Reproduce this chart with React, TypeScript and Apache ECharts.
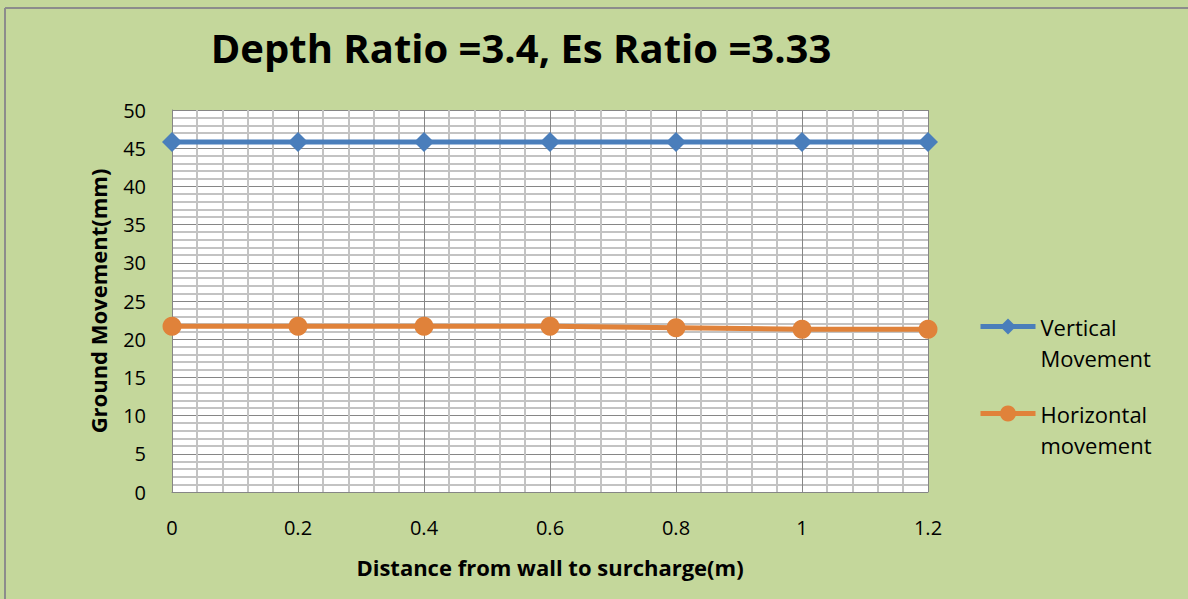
import React, { useEffect, useRef } from "react";
import * as echarts from "echarts";

const xValues = [0, 0.2, 0.4, 0.6, 0.8, 1, 1.2];
const verticalMovement = [45.8, 45.8, 45.8, 45.8, 45.8, 45.8, 45.8];
const horizontalMovement = [21.7, 21.7, 21.7, 21.7, 21.5, 21.3, 21.3];
const seriesNames = ["Vertical\nMovement", "Horizontal\nmovement"];
const titleText = "Depth Ratio =3.4, Es Ratio =3.33";
const xTitle = "Distance from wall to surcharge(m)";
const yTitle = "Ground Movement(mm)";

const FONT = "'Open Sans', 'Noto Sans', sans-serif";

export default function App() {
  const ref = useRef<HTMLDivElement>(null);
  useEffect(() => {
    if (!ref.current) return;
    const chart = echarts.init(ref.current, undefined, { renderer: "svg" });
    const toPairs = (ys: number[]) => xValues.map((x, i) => [x, ys[i]]);
    chart.setOption({
      animation: false,
      backgroundColor: "#C4D79B",
      textStyle: { fontFamily: FONT },
      title: {
        text: titleText,
        left: 516,
        top: 22,
        textAlign: "center",
        textStyle: { fontSize: 40, fontWeight: "bold", color: "#000", fontFamily: FONT },
      },
      graphic: [
        { type: "line", shape: { x1: 5, y1: 8, x2: 5, y2: 599 }, style: { stroke: "#8c8c8c", lineWidth: 2 } },
        { type: "line", shape: { x1: 5, y1: 8, x2: 1188, y2: 8 }, style: { stroke: "#8c8c8c", lineWidth: 2 } },
      ],
      legend: {
        orient: "vertical",
        left: 973,
        top: 275,
        itemWidth: 55,
        itemHeight: 20,
        itemGap: -6,
        lineStyle: { width: 5 },
        formatter: (name: string) => " \n" + name,
        textStyle: { fontSize: 22, color: "#000", lineHeight: 31, fontFamily: FONT },
        data: seriesNames,
      },
      grid: { left: 172, top: 110, width: 756, height: 382, show: true, backgroundColor: "#ffffff", borderWidth: 0 },
      xAxis: {
        type: "value",
        min: 0,
        max: 1.2,
        interval: 0.2,
        name: xTitle,
        nameLocation: "middle",
        nameGap: 64,
        nameTextStyle: { fontSize: 22, fontWeight: "bold", color: "#000", fontFamily: FONT },
        axisLine: { show: true, lineStyle: { color: "#868686", width: 1 } },
        axisTick: { show: false },
        axisLabel: { fontSize: 20, color: "#000", margin: 25, fontFamily: FONT },
        splitLine: { show: true, lineStyle: { color: "#868686", width: 1 } },
        minorTick: { show: false, splitNumber: 5 },
        minorSplitLine: { show: true, lineStyle: { color: "#c3c3c3", width: 2 } },
      },
      yAxis: {
        type: "value",
        min: 0,
        max: 50,
        interval: 5,
        name: yTitle,
        nameLocation: "middle",
        nameGap: 63,
        nameTextStyle: { fontSize: 22, fontWeight: "bold", color: "#000", fontFamily: FONT },
        axisLine: { show: true, lineStyle: { color: "#868686", width: 1 } },
        axisTick: { show: false },
        axisLabel: { fontSize: 20, color: "#000", margin: 26, fontFamily: FONT },
        splitLine: { show: true, lineStyle: { color: "#868686", width: 1 } },
        minorTick: { show: false, splitNumber: 5 },
        minorSplitLine: { show: true, lineStyle: { color: "#c3c3c3", width: 2 } },
      },
      series: [
        {
          name: seriesNames[0],
          type: "line",
          data: toPairs(verticalMovement),
          symbol: "diamond",
          symbolSize: 20,
          lineStyle: { color: "#4A7EBB", width: 5 },
          itemStyle: { color: "#4A7EBB" },
        },
        {
          name: seriesNames[1],
          type: "line",
          data: toPairs(horizontalMovement),
          symbol: "circle",
          symbolSize: 19,
          lineStyle: { color: "#E0823A", width: 5 },
          itemStyle: { color: "#E0823A" },
        },
      ],
    });
    return () => chart.dispose();
  }, []);
  return (
    <div
      ref={ref}
      style={{ position: "fixed", left: 0, top: 0, width: 1188, height: 599 }}
    />
  );
}
